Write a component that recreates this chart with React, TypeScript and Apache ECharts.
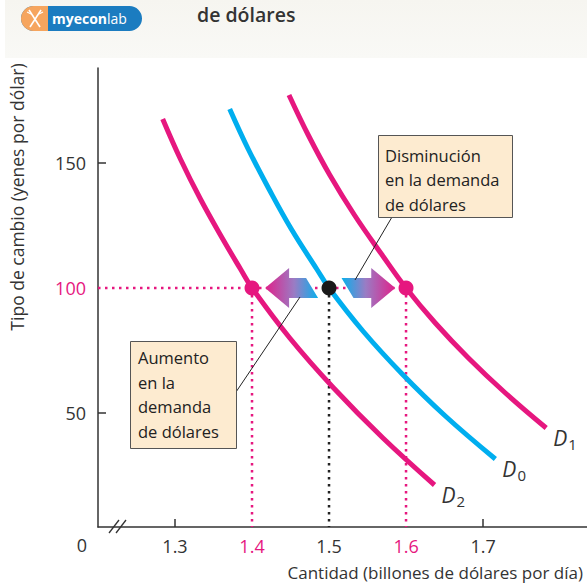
import React, { useEffect, useRef } from "react";
import * as echarts from "echarts";

// ---------- data ----------
const xTickLabels = [1.3, 1.4, 1.5, 1.6, 1.7];
const xTickMarks = [1.3, 1.7];
const highlightedX = [1.4, 1.6];
const yTickLabels = [50, 100, 150];
const yTickMarks = [50, 150];
const highlightedY = [100];

const xMin = 1.2;
const xMax = 1.835;
const yMin = 4.4;
const yMax = 188;

const exchangeRate = 100;
const qD2 = 1.4;
const qD0 = 1.5;
const qD1 = 1.6;

const d1Curve = [
  [1.448, 177.2], [1.473, 161.2], [1.501, 145.2], [1.533, 129.2], [1.569, 113.2],
  [1.6, 100], [1.638, 86], [1.681, 72], [1.729, 58], [1.782, 44],
];
const d0Curve = [
  [1.371, 171.6], [1.395, 155.6], [1.422, 139.6], [1.451, 123.6], [1.484, 107.6],
  [1.5, 100], [1.544, 82.8], [1.595, 65.6], [1.651, 48.8], [1.716, 31.6],
];
const d2Curve = [
  [1.284, 167.6], [1.307, 151.6], [1.333, 135.6], [1.362, 119.6], [1.385, 107.6],
  [1.4, 100], [1.449, 80], [1.506, 60], [1.57, 40], [1.637, 21.2],
];

// arrows: [tail quantity, tip quantity]
const arrowData = [
  [1.478, 1.417],
  [1.524, 1.586],
];

const MAGENTA = "#e6177f";
const CYAN = "#00aeef";
const INK = "#333333";
const FONT = "'Open Sans', 'Noto Sans', sans-serif";

const near = (a: number, list: number[]) => list.some((v) => Math.abs(v - a) < 1e-6);

export default function App() {
  const ref = useRef<HTMLDivElement>(null);

  useEffect(() => {
    document.body.style.margin = "0";
    const chart = echarts.init(ref.current!, null, { renderer: "svg" });

    const dottedStyle = (color: string) => ({
      color,
      width: 2.5,
      type: [2.5, 4.5] as any,
    });

    const curveSeries = (name: string, data: number[][], color: string, sub: string) => ({
      type: "line",
      name,
      data,
      smooth: 0.4,
      showSymbol: false,
      symbol: "none",
      lineStyle: { color, width: 5, cap: "butt" },
      z: 3,
      endLabel: {
        show: true,
        formatter: `{d|D}{s|${sub}}`,
        distance: 7,
        offset: [0, 10],
        rich: {
          d: { fontStyle: "italic", fontSize: 21, color: INK, fontFamily: FONT, lineHeight: 26, verticalAlign: "middle" },
          s: { fontSize: 15, color: INK, fontFamily: FONT, lineHeight: 26, verticalAlign: "bottom", padding: [10, 0, 0, 1] },
        },
      },
    });

    const option: any = {
      animation: false,
      backgroundColor: "#ffffff",
      grid: { left: 98, right: 0, top: 68, bottom: 58, containLabel: false },
      xAxis: {
        type: "value",
        min: xMin,
        max: xMax,
        axisLine: { show: true, lineStyle: { color: INK, width: 1.5 } },
        axisTick: { show: true, inside: true, length: 8, customValues: xTickMarks, lineStyle: { color: INK, width: 1.5 } },
        axisLabel: {
          customValues: xTickLabels,
          margin: 10,
          fontSize: 18,
          color: INK,
          fontFamily: FONT,
          formatter: (v: number) => (near(v, highlightedX) ? `{m|${v.toFixed(1)}}` : v.toFixed(1)),
          rich: { m: { color: MAGENTA, fontSize: 18, fontFamily: FONT } },
        },
        splitLine: { show: false },
      },
      yAxis: {
        type: "value",
        min: yMin,
        max: yMax,
        axisLine: { show: true, lineStyle: { color: INK, width: 1.5 } },
        axisTick: { show: true, inside: true, length: 8, customValues: yTickMarks, lineStyle: { color: INK, width: 1.5 } },
        axisLabel: {
          customValues: yTickLabels,
          margin: 12,
          fontSize: 18,
          color: INK,
          fontFamily: FONT,
          formatter: (v: number) => (near(v, highlightedY) ? `{m|${v}}` : `${v}`),
          rich: { m: { color: MAGENTA, fontSize: 18, fontFamily: FONT } },
        },
        splitLine: { show: false },
      },
      series: [
        // dotted guide lines
        {
          type: "line",
          data: [[xMin, exchangeRate], [qD1, exchangeRate]],
          symbol: "none",
          lineStyle: dottedStyle(MAGENTA),
          z: 1,
        },
        {
          type: "line",
          data: [[qD2, exchangeRate], [qD2, yMin]],
          symbol: "none",
          lineStyle: dottedStyle(MAGENTA),
          z: 1,
        },
        {
          type: "line",
          data: [[qD1, exchangeRate], [qD1, yMin]],
          symbol: "none",
          lineStyle: dottedStyle(MAGENTA),
          z: 1,
        },
        {
          type: "line",
          data: [[qD0, exchangeRate], [qD0, yMin]],
          symbol: "none",
          lineStyle: dottedStyle("#222"),
          z: 1,
        },
        curveSeries("D2", d2Curve, MAGENTA, "2"),
        curveSeries("D0", d0Curve, CYAN, "0"),
        curveSeries("D1", d1Curve, MAGENTA, "1"),
        // shift arrows
        {
          type: "custom",
          data: arrowData,
          z: 4,
          renderItem: (params: any, api: any) => {
            const tail = api.coord([api.value(0), exchangeRate]);
            const tip = api.coord([api.value(1), exchangeRate]);
            const dir = tip[0] > tail[0] ? 1 : -1;
            const cy = tip[1];
            const headLen = 24;
            const headH = 20;
            const bodyH = 10;
            const slant = 6;
            const base = tip[0] - dir * headLen;
            const pts = [
              [tip[0], cy],
              [base, cy - headH],
              [base, cy - bodyH],
              [tail[0] - slant, cy - bodyH],
              [tail[0] + slant, cy + bodyH],
              [base, cy + bodyH],
              [base, cy + headH],
            ];
            const stops =
              dir < 0
                ? [
                    { offset: 0, color: "#e0218a" },
                    { offset: 0.55, color: "#9a7cc4" },
                    { offset: 1, color: "#08b0ec" },
                  ]
                : [
                    { offset: 0, color: "#08b0ec" },
                    { offset: 0.45, color: "#9a7cc4" },
                    { offset: 1, color: "#e0218a" },
                  ];
            return {
              type: "polygon",
              shape: { points: pts },
              style: { fill: new echarts.graphic.LinearGradient(0, 0, 1, 0, stops), stroke: "none" },
            };
          },
        },
        // intersection points
        {
          type: "scatter",
          data: [
            { value: [qD2, exchangeRate], itemStyle: { color: MAGENTA, opacity: 1 } },
            { value: [qD0, exchangeRate], itemStyle: { color: "#1a1a1a", opacity: 1 } },
            { value: [qD1, exchangeRate], itemStyle: { color: MAGENTA, opacity: 1 } },
          ],
          symbolSize: 15,
          itemStyle: { opacity: 1 },
          z: 6,
        },
      ],
      graphic: [
        // header band
        {
          type: "rect",
          shape: { x: 5, y: 0, width: 582, height: 58 },
          style: {
            fill: new echarts.graphic.LinearGradient(0, 0, 0, 1, [
              { offset: 0, color: "#f6f5f0" },
              { offset: 1, color: "#f9f9f6" },
            ]),
          },
          z: 0,
        },
        // logo
        {
          type: "rect",
          shape: { x: 21, y: 6, width: 121, height: 25, r: 12.5 },
          style: { fill: "#1b7cc0" },
          z: 1,
        },
        {
          type: "rect",
          shape: { x: 21, y: 6, width: 27, height: 25, r: [12.5, 0, 0, 12.5] },
          style: { fill: "#f6a55e" },
          z: 2,
        },
        { type: "line", shape: { x1: 29, y1: 10, x2: 40, y2: 27 }, style: { stroke: "#fff", lineWidth: 1.6 }, z: 3 },
        { type: "line", shape: { x1: 41, y1: 10, x2: 30, y2: 27 }, style: { stroke: "#fff", lineWidth: 1.6 }, z: 3 },
        { type: "line", shape: { x1: 27, y1: 12, x2: 31, y2: 14 }, style: { stroke: "#fff", lineWidth: 1.2 }, z: 3 },
        { type: "line", shape: { x1: 43, y1: 12, x2: 39, y2: 14 }, style: { stroke: "#fff", lineWidth: 1.2 }, z: 3 },
        {
          type: "text",
          x: 52,
          y: 18.5,
          style: {
            text: "{a|myecon}{b|lab}",
            rich: {
              a: { fill: "#ffffff", fontSize: 14, fontWeight: "bold", fontFamily: "'Open Sans', sans-serif" },
              b: { fill: "#ffffff", fontSize: 14, fontWeight: "normal", fontFamily: "'Open Sans', sans-serif" },
            },
            verticalAlign: "middle",
          },
          z: 3,
        },
        // title fragment
        {
          type: "text",
          x: 197,
          y: 14,
          style: { text: "de dólares", fontSize: 19.5, fontWeight: 600, fill: "#333", fontFamily: FONT, verticalAlign: "middle" },
          z: 1,
        },
        // axis names
        {
          type: "text",
          x: 17,
          y: 197,
          rotation: Math.PI / 2,
          style: {
            text: "Tipo de cambio (yenes por dólar)",
            fontSize: 17.5,
            fill: INK,
            fontFamily: FONT,
            align: "center",
            verticalAlign: "middle",
          },
        },
        {
          type: "text",
          x: 583,
          y: 572,
          style: {
            text: "Cantidad (billones de dólares por día)",
            fontSize: 17,
            fill: INK,
            fontFamily: FONT,
            align: "right",
            verticalAlign: "middle",
          },
        },
        // origin label
        {
          type: "text",
          x: 82,
          y: 545,
          style: { text: "0", fontSize: 18, fill: INK, fontFamily: FONT, align: "center", verticalAlign: "middle" },
        },
        // axis break
        { type: "line", shape: { x1: 109, y1: 533, x2: 119, y2: 520 }, style: { stroke: INK, lineWidth: 1.3 }, z: 5 },
        { type: "line", shape: { x1: 116, y1: 533, x2: 126, y2: 520 }, style: { stroke: INK, lineWidth: 1.3 }, z: 5 },
        // leader lines
        { type: "line", shape: { x1: 392, y1: 217, x2: 355, y2: 280 }, style: { stroke: "#222", lineWidth: 1 }, z: 5 },
        { type: "line", shape: { x1: 236, y1: 392, x2: 300, y2: 297 }, style: { stroke: "#222", lineWidth: 1 }, z: 5 },
        // annotation boxes
        {
          type: "rect",
          shape: { x: 378.5, y: 135.5, width: 134, height: 82 },
          style: { fill: "#fdebd0", stroke: "#555", lineWidth: 1 },
          z: 6,
        },
        {
          type: "text",
          x: 385,
          y: 143,
          style: {
            text: "Disminución\nen la demanda\nde dólares",
            fontSize: 16.5,
            lineHeight: 24.5,
            fill: "#222",
            fontFamily: FONT,
          },
          z: 7,
        },
        {
          type: "rect",
          shape: { x: 130.5, y: 341.5, width: 106, height: 107 },
          style: { fill: "#fdebd0", stroke: "#555", lineWidth: 1 },
          z: 6,
        },
        {
          type: "text",
          x: 138,
          y: 345,
          style: {
            text: "Aumento\nen la\ndemanda\nde dólares",
            fontSize: 16.5,
            lineHeight: 24.7,
            fill: "#222",
            fontFamily: FONT,
          },
          z: 7,
        },
      ],
    };

    chart.setOption(option);
    return () => chart.dispose();
  }, []);

  return <div ref={ref} style={{ width: 587, height: 585 }} />;
}
